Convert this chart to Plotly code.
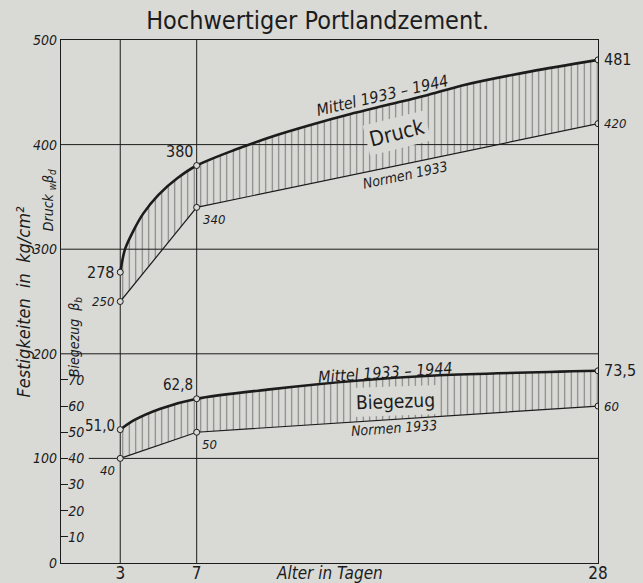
import plotly.graph_objects as go

# ---------------- data ----------------
days = [3, 7, 28]
druck_normen = [250, 340, 420]
druck_mittel_pts = [278, 380, 481]
biege_normen = [40, 50, 60]
biege_mittel_pts = [51.0, 62.8, 73.5]

# points read along the smooth "Mittel" curves
druck_mittel_days = [3, 3.25, 3.7, 4.2, 5, 6, 7, 9, 11, 13, 15, 17, 19, 21, 24.5, 28]
druck_mittel = [278, 300, 318, 334, 352, 368, 380, 395, 408, 419, 429, 438, 447, 457, 470, 481]
biege_mittel_days = [3, 3.7, 5.1, 7, 10.7, 15.5, 19.7, 28]
biege_mittel = [51.0, 54.5, 59.0, 62.8, 66.3, 69.8, 71.8, 73.5]

labels_druck_mittel = ["278", "380", "481"]
labels_druck_normen = ["250", "340", "420"]
labels_biege_mittel = ["51,0", "62,8", "73,5"]
labels_biege_normen = ["40", "50", "60"]

y_ticks = [0, 100, 200, 300, 400, 500]
biege_ticks = [10, 20, 30, 40, 50, 60, 70]
x_ticks = [3, 7, 28]
grid_y = [100, 200, 300, 400]
grid_x = [3, 7]

# ---------------- style ----------------
BG = "#d9d9d6"
INK = "#1c1c1c"
FONT = "Liberation Sans Narrow, DejaVu Sans Condensed, Roboto, sans-serif"
hatch = dict(shape="|", size=6.5, solidity=0.17, fgcolor="#262626", bgcolor="rgba(0,0,0,0)")

fig = go.Figure()

# Druck
fig.add_trace(go.Scatter(x=days, y=druck_normen, mode="lines",
                         line=dict(color=INK, width=1.2), showlegend=False))
fig.add_trace(go.Scatter(x=druck_mittel_days, y=druck_mittel, mode="lines",
                         line=dict(color=INK, width=2.6, shape="spline", smoothing=0.8),
                         fill="tonexty", fillcolor="rgba(0,0,0,0)", fillpattern=hatch,
                         showlegend=False))
# Biegezug (inner scale, y2)
fig.add_trace(go.Scatter(x=days, y=biege_normen, mode="lines", yaxis="y2",
                         line=dict(color=INK, width=1.2), showlegend=False))
fig.add_trace(go.Scatter(x=biege_mittel_days, y=biege_mittel, mode="lines", yaxis="y2",
                         line=dict(color=INK, width=2.6, shape="spline", smoothing=0.8),
                         fill="tonexty", fillcolor="rgba(0,0,0,0)", fillpattern=hatch,
                         showlegend=False))
# point markers
mk = dict(symbol="circle", size=6, color=BG, line=dict(color=INK, width=1))
fig.add_trace(go.Scatter(x=days + days, y=druck_mittel_pts + druck_normen, mode="markers",
                         marker=mk, showlegend=False))
fig.add_trace(go.Scatter(x=days + days, y=biege_mittel_pts + biege_normen, mode="markers",
                         yaxis="y2", marker=mk, showlegend=False))

# grid lines
for v in grid_y:
    fig.add_shape(type="line", xref="x", yref="y", x0=(1.35 if v == 100 else -0.1), x1=28,
                  y0=v, y1=v, line=dict(color=INK, width=1), layer="below")
for d in grid_x:
    fig.add_shape(type="line", xref="x", yref="y", x0=d, x1=d, y0=0, y1=500,
                  line=dict(color=INK, width=1), layer="below")

ann = []
def lab(x, y, t, yref="y", xa="center", ya="middle", xs=0, ys=0, size=15, italic=False):
    ann.append(dict(x=x, y=y, xref="x", yref=yref, text=t, showarrow=False,
                    xanchor=xa, yanchor=ya, xshift=xs, yshift=ys,
                    font=dict(family=FONT, size=size, color=INK,
                              style="italic" if italic else "normal")))

# point labels
lab(days[0], druck_mittel_pts[0], labels_druck_mittel[0], xa="right", xs=-4, size=16)
lab(days[1], druck_mittel_pts[1], labels_druck_mittel[1], xa="right", ya="bottom", xs=-2, ys=3, size=16)
lab(days[2], druck_mittel_pts[2], labels_druck_mittel[2], xa="left", xs=4, size=16)
lab(days[0], druck_normen[0], labels_druck_normen[0], xa="right", xs=-4, size=13, italic=True)
lab(days[1], druck_normen[1], labels_druck_normen[1], xa="left", ya="top", xs=4, ys=-3, size=13, italic=True)
lab(days[2], druck_normen[2], labels_druck_normen[2], xa="left", xs=4, size=13, italic=True)
lab(days[0], biege_mittel_pts[0], labels_biege_mittel[0], yref="y2", xa="right", xs=-3, ys=4, size=15)
lab(days[1], biege_mittel_pts[1], labels_biege_mittel[1], yref="y2", xa="right", ya="bottom", xs=-2, ys=3, size=15)
lab(days[2], biege_mittel_pts[2], labels_biege_mittel[2], yref="y2", xa="left", xs=4, size=16)
lab(days[0], biege_normen[0], labels_biege_normen[0], yref="y2", xa="right", ya="top", xs=-3, ys=-3, size=13, italic=True)
lab(days[1], biege_normen[1], labels_biege_normen[1], yref="y2", xa="left", ya="top", xs=3, ys=-3, size=13, italic=True)
lab(days[2], biege_normen[2], labels_biege_normen[2], yref="y2", xa="left", xs=4, size=13, italic=True)

# curve labels
def curve_label(x, y, t, ang, yref="y", size=16, italic=True, box=False):
    d = dict(x=x, y=y, xref="x", yref=yref, text=t, showarrow=False, textangle=ang,
             xanchor="center", yanchor="middle",
             font=dict(family=FONT, size=size, color=INK, style="italic" if italic else "normal"))
    if box:
        d.update(bgcolor=BG, borderpad=3)
    ann.append(d)

curve_label(16.7, 447, "Mittel 1933 – 1944", -13, size=16)
curve_label(17.5, 411, "Druck", -14, size=21, italic=False, box=True)
curve_label(17.9, 371, "Normen 1933", -12, size=14)
curve_label(16.9, 73.0, "Mittel 1933 – 1944", -4, yref="y2", size=16)
curve_label(17.4, 62.0, "Biegezug", -2, yref="y2", size=19, italic=False, box=True)
curve_label(17.3, 51.6, "Normen 1933", -4, yref="y2", size=14)

# axis texts
ann.append(dict(x=-0.069, y=0.5, xref="paper", yref="paper", text="Festigkeiten  in  kg/cm²",
                textangle=-90, showarrow=False, xanchor="center", yanchor="middle",
                font=dict(family=FONT, size=18, color=INK, style="italic")))
ann.append(dict(x=-0.022, y=0.694, xref="paper", yref="paper", text="Druck <sub>w</sub>β<sub>d</sub>",
                textangle=-90, showarrow=False, xanchor="center", yanchor="middle",
                font=dict(family=FONT, size=14, color=INK, style="italic")))
ann.append(dict(x=0.026, y=0.432, xref="paper", yref="paper", text="Biegezug  β<sub>b</sub>",
                textangle=-90, showarrow=False, xanchor="center", yanchor="middle",
                font=dict(family=FONT, size=14, color=INK, style="italic")))
ann.append(dict(x=0.5, y=0, xref="paper", yref="paper", xanchor="center", yanchor="middle",
                yshift=-10, text="Alter in Tagen", showarrow=False,
                font=dict(family=FONT, size=17, color=INK, style="italic")))

fig.update_layout(
    width=643, height=583,
    margin=dict(l=61, r=45, t=40, b=20, autoexpand=False),
    paper_bgcolor=BG, plot_bgcolor=BG,
    title=dict(text="Hochwertiger Portlandzement.", x=0.494, xanchor="center",
               y=0.966, yanchor="middle", automargin=False,
               font=dict(family=FONT, size=25, color=INK)),
    xaxis=dict(range=[-0.1, 28], tickvals=x_ticks, ticktext=[str(v) for v in x_ticks],
               showgrid=False, zeroline=False, showline=True, mirror=True, automargin=False,
               linecolor=INK, linewidth=1.2, ticks="", ticklabelstandoff=-6,
               tickfont=dict(family=FONT, size=17, color=INK)),
    yaxis=dict(range=[0, 500], tickvals=y_ticks, showgrid=False, zeroline=False, automargin=False,
               showline=True, mirror=True, linecolor=INK, linewidth=1.2, ticks="",
               tickfont=dict(family=FONT, size=14, color=INK, style="italic")),
    yaxis2=dict(range=[0, 200], overlaying="y", anchor="x", side="left", automargin=False,
                tickvals=biege_ticks, ticks="inside", ticklen=7, tickcolor=INK, tickwidth=1,
                ticklabelposition="inside", showgrid=False, zeroline=False, showline=False,
                tickfont=dict(family=FONT, size=14, color=INK, style="italic")),
    annotations=ann,
)

fig.write_html(
    "out.html",
    config={"displayModeBar": False},
    post_script="document.body.style.margin='0';document.body.style.background='%s';"
                "document.documentElement.style.background='%s';" % (BG, BG),
)
